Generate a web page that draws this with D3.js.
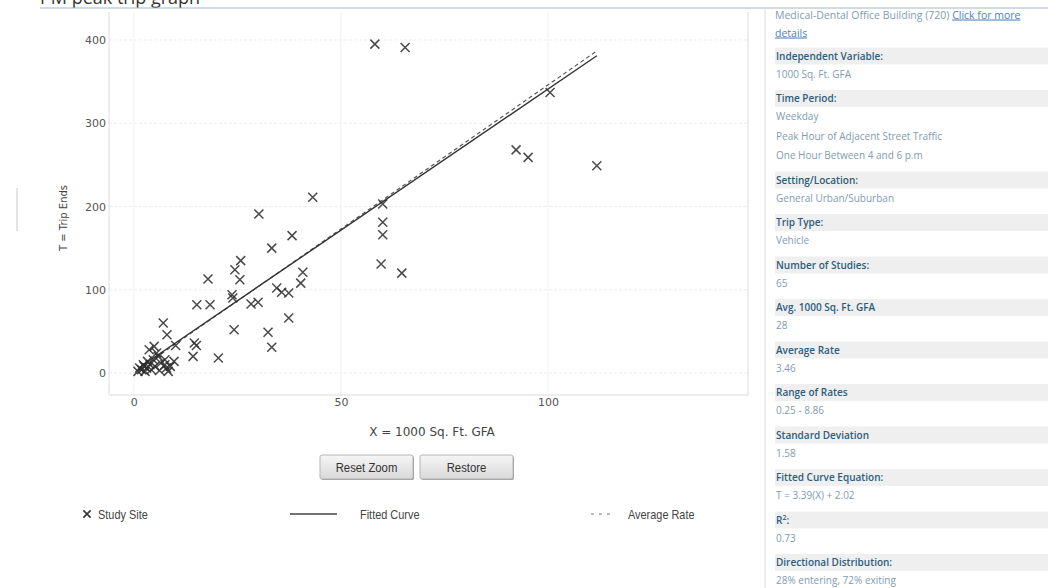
<!DOCTYPE html>
<html>
<head>
<meta charset="utf-8">
<script src="https://cdn.jsdelivr.net/npm/d3@7"></script>
<style>
  body { margin: 0; background: #fff; }
  svg { display: block; }
</style>
</head>
<body>
<div id="chart"></div>
<script>
// study sites
const siteX = [58.2, 65.5, 100.5, 92.3, 95.2, 111.8, 60.1, 60.1, 60.1, 59.7, 64.7, 43.2, 30.2, 38.2, 33.3,
  25.8, 24.4, 25.6, 17.9, 40.8, 40.3, 34.5, 35.7, 37.4, 23.7, 23.9, 28.3, 30.0, 15.2, 18.4,
  24.2, 32.4, 33.3, 37.4, 20.4, 14.3, 14.6, 15.1, 7.1, 8.0, 4.9, 3.7, 10.1, 5.9, 4.7,
  9.7, 7.5, 2.3, 1.4, 3.1, 2.7, 7.9, 8.3, 7.5, 3.9, 5.1, 1.9, 2.5, 4.2, 6.5,
  3.3, 8.8, 5.5, 6.2, 1.0];
const siteT = [395, 391, 337, 268, 259, 249, 203, 181, 166, 131, 120, 211, 191, 165, 150,
  135, 124, 112, 113, 121, 108, 102, 97, 96, 94, 90, 83, 85, 82, 82,
  52, 49, 31, 66, 18, 20, 36, 33, 60, 46, 32, 28, 33, 20, 16,
  14, 16, 10, 6, 6, 2, 6, 2, 10, 10, 8, 4, 8, 4, 12,
  14, 8, 24, 3, 2];

const xTicks = [0, 50, 100];
const yTicks = [0, 100, 200, 300, 400];

const fitSlope = 3.39, fitIntercept = 2.02;
const avgRate = 3.46;

const infoHeaders = ["Independent Variable:", "Time Period:", "Setting/Location:", "Trip Type:",
  "Number of Studies:", "Avg. 1000 Sq. Ft. GFA", "Average Rate", "Range of Rates",
  "Standard Deviation", "Fitted Curve Equation:", "R2", "Directional Distribution:"];
const infoValues = [["1000 Sq. Ft. GFA"],
  ["Weekday", "Peak Hour of Adjacent Street Traffic", "One Hour Between 4 and 6 p.m"],
  ["General Urban/Suburban"], ["Vehicle"], ["65"], ["28"], ["3.46"], ["0.25 - 8.86"],
  ["1.58"], ["T = 3.39(X) + 2.02"], ["0.73"], ["28% entering, 72% exiting"]];

const legendLabels = ["Study Site", "Fitted Curve", "Average Rate"];

const svg = d3.select("#chart").append("svg")
  .attr("width", 1051)
  .attr("height", 588);

// title (cut off at the top of the screenshot) + separator
svg.append("text")
  .attr("x", 40)
  .attr("y", 4)
  .style("font-family", "Open Sans, sans-serif")
  .style("font-size", "18px")
  .attr("fill", "#333")
  .text("PM peak trip graph");

svg.append("line")
  .attr("x1", 40).attr("x2", 1048)
  .attr("y1", 8).attr("y2", 8)
  .attr("stroke", "#a3b6c2")
  .attr("stroke-width", 1.2);

// stray mark at left
svg.append("line")
  .attr("x1", 17).attr("x2", 17)
  .attr("y1", 188).attr("y2", 231)
  .attr("stroke", "#c8c8c8");

const xScale = d3.scaleLinear().domain([-6, 148.3]).range([109, 748]);
const yScale = d3.scaleLinear().domain([-26.4, 433.6]).range([395, 12]);

const plot = svg.append("g");

// grid
plot.selectAll(".hgrid")
  .data(yTicks)
  .enter()
  .append("line")
  .attr("x1", 109).attr("x2", 748)
  .attr("y1", d => yScale(d)).attr("y2", d => yScale(d))
  .attr("stroke", "#ececec")
  .attr("stroke-dasharray", "3,2");

plot.selectAll(".vgrid")
  .data(xTicks)
  .enter()
  .append("line")
  .attr("x1", d => xScale(d)).attr("x2", d => xScale(d))
  .attr("y1", 12).attr("y2", 395)
  .attr("stroke", "#f0f0f0");

// frame
plot.append("path")
  .attr("d", "M109,12V395H748V12")
  .attr("fill", "none")
  .attr("stroke", "#dcdcdc");

// axes
const yAxis = svg.append("g")
  .attr("transform", "translate(109,0)")
  .call(d3.axisLeft(yScale).tickValues(yTicks).tickSize(0).tickPadding(3));
const xAxis = svg.append("g")
  .attr("transform", "translate(0,395)")
  .call(d3.axisBottom(xScale).tickValues(xTicks).tickSize(0).tickPadding(3));

[xAxis, yAxis].forEach(ax => {
  ax.select(".domain").remove();
  ax.selectAll("text")
    .style("font-family", "DejaVu Sans, sans-serif")
    .style("font-size", "11px")
    .attr("fill", "#555");
});

svg.append("text")
  .attr("x", 432)
  .attr("y", 436)
  .attr("text-anchor", "middle")
  .style("font-family", "DejaVu Sans, sans-serif")
  .style("font-size", "12px")
  .attr("fill", "#444")
  .text("X = 1000 Sq. Ft. GFA");

svg.append("text")
  .attr("transform", "rotate(-90)")
  .attr("x", -218)
  .attr("y", 67)
  .attr("text-anchor", "middle")
  .style("font-family", "DejaVu Sans, sans-serif")
  .style("font-size", "10px")
  .attr("fill", "#444")
  .text("T = Trip Ends");

// lines
const xMin = d3.min(siteX), xMax = d3.max(siteX);
const lineGen = d3.line().x(d => xScale(d[0])).y(d => yScale(d[1]));

plot.append("path")
  .attr("d", lineGen([[xMin, avgRate * xMin], [xMax, avgRate * xMax]]))
  .attr("stroke", "#555")
  .attr("stroke-width", 1.1)
  .attr("stroke-dasharray", "4,3")
  .attr("fill", "none");

plot.append("path")
  .attr("d", lineGen([[xMin, fitSlope * xMin + fitIntercept], [xMax, fitSlope * xMax + fitIntercept]]))
  .attr("stroke", "#333")
  .attr("stroke-width", 1.4)
  .attr("fill", "none");

// study sites as crosses
const cross = r => `M${-r},${-r}L${r},${r}M${-r},${r}L${r},${-r}`;
plot.selectAll(".site")
  .data(siteX.map((x, i) => [x, siteT[i]]))
  .enter()
  .append("path")
  .attr("class", "site")
  .attr("transform", d => `translate(${xScale(d[0])},${yScale(d[1])})`)
  .attr("d", cross(4.5))
  .attr("stroke", "#2a2a2a")
  .attr("stroke-width", 1.5)
  .attr("stroke-opacity", 0.85);

// buttons
const grad = svg.append("defs").append("linearGradient")
  .attr("id", "btn").attr("x1", 0).attr("x2", 0).attr("y1", 0).attr("y2", 1);
grad.append("stop").attr("offset", "0%").attr("stop-color", "#f6f6f6");
grad.append("stop").attr("offset", "100%").attr("stop-color", "#d9d9d9");

// the page font is a narrow one, squeeze regular sans to fit
const narrow = (sel, x, y) => sel.attr("transform", `translate(${x},${y}) scale(0.84,1)`);

const buttons = [{ label: "Reset Zoom", x: 320 }, { label: "Restore", x: 420 }];
const btn = svg.selectAll(".btn")
  .data(buttons)
  .enter()
  .append("g")
  .attr("transform", d => `translate(${d.x},455)`);
btn.append("rect")
  .attr("x", 1).attr("y", 1)
  .attr("width", 93).attr("height", 24)
  .attr("rx", 2)
  .attr("fill", "#9a9a9a");
btn.append("rect")
  .attr("width", 93).attr("height", 24)
  .attr("rx", 2)
  .attr("fill", "url(#btn)")
  .attr("stroke", "#b5b5b5");
btn.append("text")
  .call(narrow, 46.5, 16.5)
  .attr("text-anchor", "middle")
  .style("font-family", "Liberation Sans, Arial, sans-serif")
  .style("font-size", "13.5px")
  .attr("fill", "#333")
  .text(d => d.label);

// legend
const legend = svg.append("g").attr("transform", "translate(0,514)");
legend.append("path")
  .attr("transform", "translate(87,0)")
  .attr("d", cross(3.6))
  .attr("stroke", "#333")
  .attr("stroke-width", 1.6);
legend.append("line")
  .attr("x1", 290).attr("x2", 337)
  .attr("stroke", "#444").attr("stroke-width", 1.4);
legend.append("line")
  .attr("x1", 591).attr("x2", 614)
  .attr("stroke", "#777").attr("stroke-width", 1.2)
  .attr("stroke-dasharray", "3,5");
legend.selectAll(".lg")
  .data(legendLabels)
  .enter()
  .append("text")
  .each(function (d, i) { d3.select(this).call(narrow, [98, 360, 628][i], 4.5); })
  .style("font-family", "Liberation Sans, Arial, sans-serif")
  .style("font-size", "13px")
  .attr("fill", "#444")
  .text(d => d);

// info panel on the right
const panel = svg.append("g");
panel.append("line")
  .attr("x1", 765).attr("x2", 765)
  .attr("y1", 9).attr("y2", 588)
  .attr("stroke", "#dedede");

const valColor = "#7f9bb4", headColor = "#2c5d7e";
const panelFont = "Open Sans, sans-serif";

const first = panel.append("text")
  .attr("x", 775).attr("y", 18.5)
  .style("font-family", panelFont)
  .style("font-size", "10.5px")
  .attr("fill", valColor);
first.append("tspan").text("Medical-Dental Office Building (720) ");
first.append("tspan").attr("fill", "#4d7fc4").attr("text-decoration", "underline").text("Click for more");
panel.append("text")
  .attr("x", 775).attr("y", 36.5)
  .style("font-family", panelFont)
  .style("font-size", "10.5px")
  .attr("fill", "#4d7fc4")
  .attr("text-decoration", "underline")
  .text("details");

let cy = 56;
infoHeaders.forEach((h, i) => {
  panel.append("rect")
    .attr("x", 775).attr("y", cy - 8.5)
    .attr("width", 273).attr("height", 17)
    .attr("fill", "#efefef");
  const ht = panel.append("text")
    .attr("x", 776).attr("y", cy + 3.5)
    .style("font-family", panelFont)
    .style("font-size", "10px")
    .style("font-weight", 600)
    .attr("fill", headColor);
  if (h === "R2") {
    ht.append("tspan").text("R");
    ht.append("tspan").attr("dy", -4).style("font-size", "7px").text("2");
    ht.append("tspan").attr("dy", 4).text(":");
  } else {
    ht.text(h);
  }
  cy += 18;
  infoValues[i].forEach((v, j) => {
    if (j > 0) cy += 19.5;
    panel.append("text")
      .attr("x", 776).attr("y", cy + 3.5)
      .style("font-family", panelFont)
      .style("font-size", "10px")
      .attr("fill", valColor)
      .text(v);
  });
  cy += 24.5;
});
</script>
</body>
</html>
